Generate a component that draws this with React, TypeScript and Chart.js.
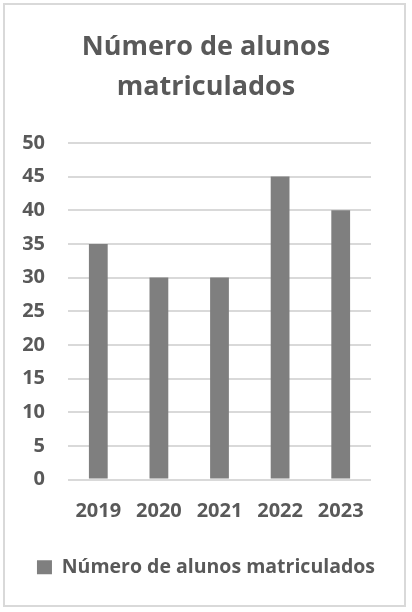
import { useEffect, useRef } from 'react';
import { Chart, registerables } from 'chart.js';

Chart.register(...registerables);

const years = ['2019', '2020', '2021', '2022', '2023'];
const students = [35, 30, 30, 45, 40];
const seriesName = 'Número de alunos matriculados';
const titleLines = ['Número de alunos', 'matriculados'];

const TEXT = '#595959';
const FONT = '"Open Sans", Lato, sans-serif';

export default function App() {
  const canvasRef = useRef<HTMLCanvasElement>(null);

  useEffect(() => {
    if (!canvasRef.current) return;
    const chart = new Chart(canvasRef.current, {
      type: 'bar',
      data: {
        labels: years,
        datasets: [
          {
            label: seriesName,
            data: students,
            backgroundColor: '#7f7f7f',
            categoryPercentage: 1,
            barPercentage: 0.31,
          },
        ],
      },
      options: {
        animation: false,
        responsive: true,
        maintainAspectRatio: false,
        layout: { padding: { left: 20, right: 20, top: 27, bottom: 25 } },
        plugins: {
          title: {
            display: true,
            text: titleLines,
            color: TEXT,
            font: { family: FONT, size: 27, weight: 'bold', lineHeight: 1.48 },
            padding: { top: 0, bottom: 36 },
          },
          legend: {
            position: 'bottom',
            labels: {
              color: TEXT,
              font: { family: FONT, size: 19.5, weight: 'bold' },
              boxWidth: 15,
              boxHeight: 14,
              padding: 14,
            },
          },
          tooltip: { enabled: false },
        },
        scales: {
          x: {
            grid: { display: false, drawTicks: false },
            border: { display: false },
            ticks: {
              color: TEXT,
              padding: 20,
              font: { family: FONT, size: 20, weight: 'bold' },
            },
          },
          y: {
            min: 0,
            max: 50,
            afterFit: (scale: any) => {
              scale.width = 48;
            },
            grid: { color: '#d9d9d9', lineWidth: 2, drawTicks: false },
            border: { display: false },
            ticks: {
              stepSize: 5,
              color: TEXT,
              padding: 23,
              font: { family: FONT, size: 20, weight: 'bold' },
            },
          },
          // empty right axis only reserves the blank margin on the right
          yRight: {
            position: 'right',
            min: 0,
            max: 50,
            afterFit: (scale: any) => {
              scale.width = 21;
            },
            grid: { display: false, drawTicks: false },
            border: { display: false },
            ticks: { display: false },
          },
        },
      },
    });
    return () => chart.destroy();
  }, []);

  return (
    <>
      <style>{'body{margin:0;background:#fff}'}</style>
      <div style={{ position: 'relative', width: 412, height: 612, background: '#fff' }}>
        <div
          style={{
            position: 'absolute',
            left: 3,
            top: 3,
            width: 399,
            height: 600,
            border: '2px solid #d9d9d9',
          }}
        />
        <div style={{ position: 'absolute', left: 0, top: 0, width: 412, height: 612 }}>
          <canvas ref={canvasRef}></canvas>
        </div>
      </div>
    </>
  );
}
